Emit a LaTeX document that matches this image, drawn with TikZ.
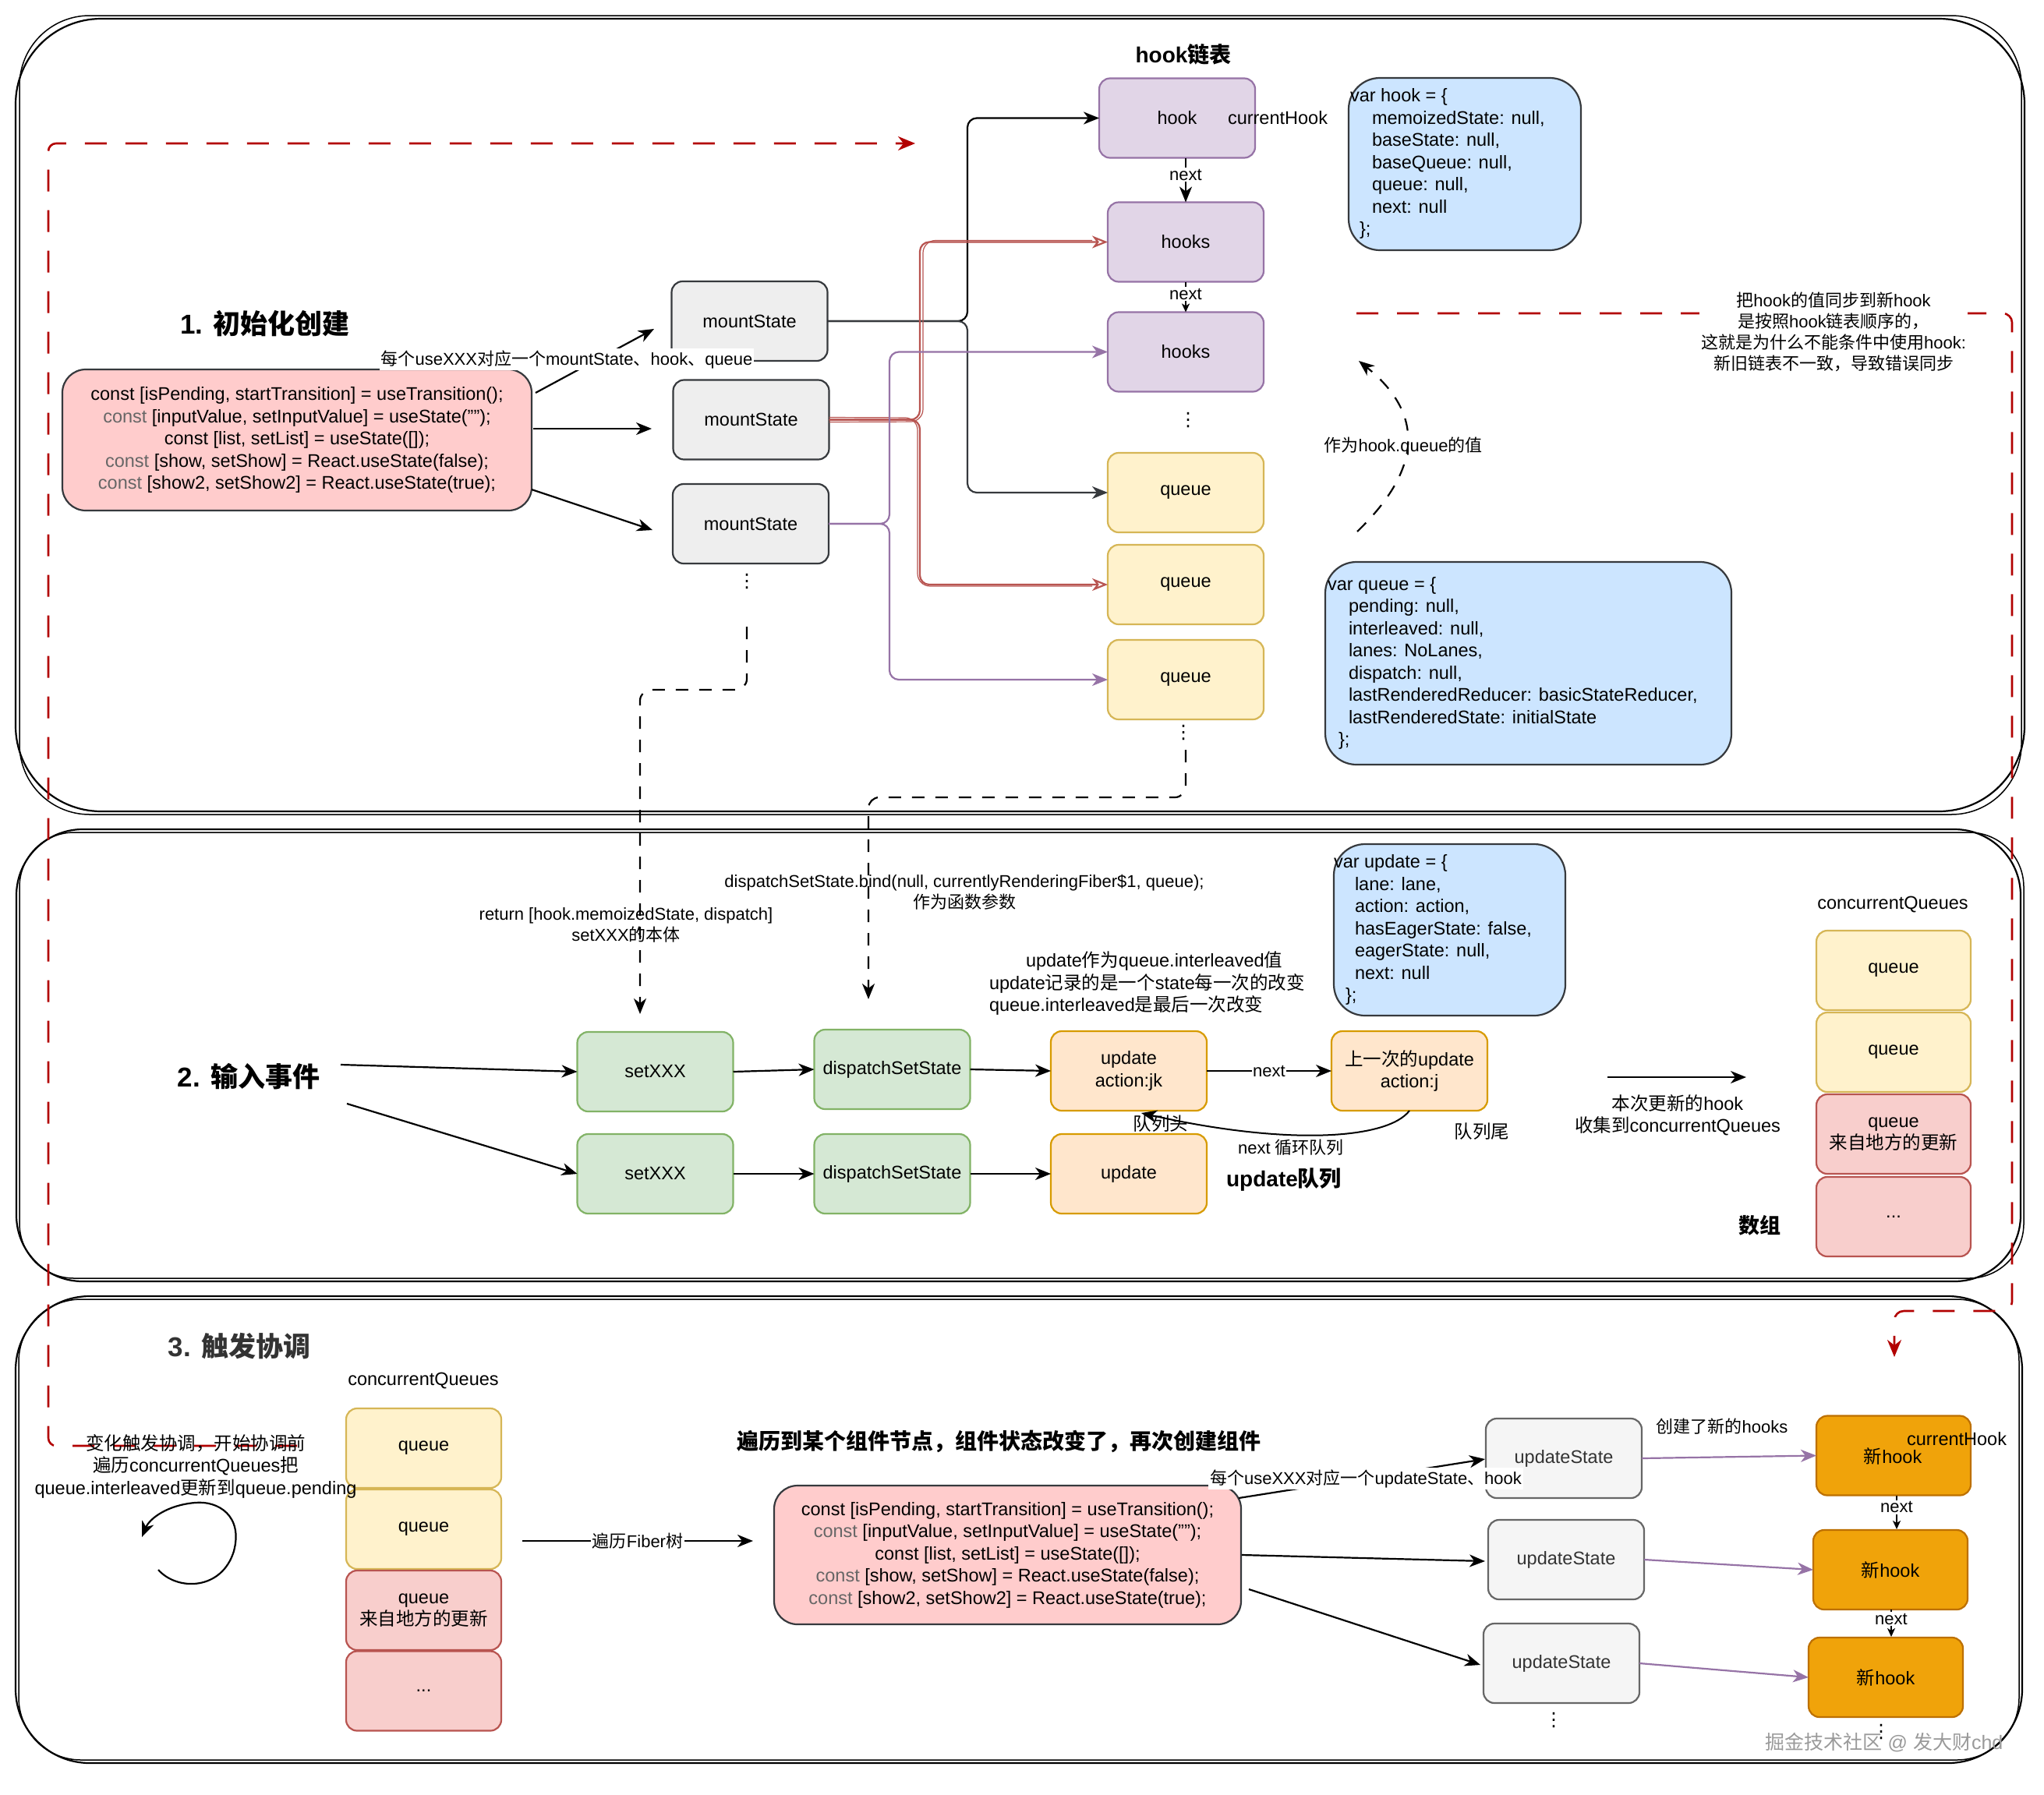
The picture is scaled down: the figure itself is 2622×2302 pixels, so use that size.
\documentclass[tikz,border=0pt]{standalone}
\usepackage{fontspec}
\setmainfont{Liberation Sans}
\newfontfamily\zh{Noto Sans CJK SC}
\newfontfamily\dv{DejaVu Sans}
\usetikzlibrary{arrows.meta,calc}
\definecolor{purF}{HTML}{E1D5E7}\definecolor{purD}{HTML}{9673A6}
\definecolor{yelF}{HTML}{FFF2CC}\definecolor{yelD}{HTML}{D6B656}
\definecolor{bluF}{HTML}{CCE5FF}\definecolor{dkD}{HTML}{36393D}
\definecolor{gryF}{HTML}{EEEEEE}
\definecolor{ltF}{HTML}{F5F5F5}\definecolor{ltD}{HTML}{666666}
\definecolor{pnkF}{HTML}{FFCCCC}
\definecolor{redF}{HTML}{F8CECC}\definecolor{redD}{HTML}{B85450}
\definecolor{grnF}{HTML}{D5E8D4}\definecolor{grnD}{HTML}{82B366}
\definecolor{orF}{HTML}{FFE6CC}\definecolor{orD}{HTML}{D79B00}
\definecolor{nhF}{HTML}{F0A30A}\definecolor{nhD}{HTML}{BD7000}
\definecolor{dred}{HTML}{B20000}
\definecolor{cgray}{HTML}{666666}
\definecolor{txt3}{HTML}{333333}
\definecolor{wmC}{HTML}{9A9A9A}
\newcommand\Z[1]{{\zh #1}}
\newcommand\fN{\fontsize{23.5}{28.5}\selectfont}
\newcommand\fL{\fontsize{22}{27}\selectfont}
\newcommand\vd{{\dv\fontsize{24}{24}\selectfont ⋮}}
\begin{document}
\begin{tikzpicture}[x=1pt,y=-1pt,
  every node/.style={font=\fN, inner sep=0pt, outer sep=0pt},
  bx/.style={rounded corners=14pt, line width=2.2pt, minimum width=200pt, minimum height=102pt, align=center},
  purp/.style={bx, fill=purF, draw=purD},
  yel/.style={bx, fill=yelF, draw=yelD},
  rd/.style={bx, fill=redF, draw=redD},
  grbox/.style={bx, fill=grnF, draw=grnD},
  orbox/.style={bx, fill=orF, draw=orD},
  msbox/.style={bx, fill=gryF, draw=dkD},
  usbox/.style={bx, fill=ltF, draw=ltD, text=txt3},
  nhbox/.style={bx, fill=nhF, draw=nhD},
  blbox/.style={rounded corners=40pt, line width=2.2pt, fill=bluF, draw=dkD},
  codebox/.style={rounded corners=30pt, line width=2.2pt, fill=pnkF, draw=dkD, align=center},
  arr/.style={line width=2.2pt, -{Stealth[length=20pt,width=16pt,inset=6pt]}},
  sarr/.style={line width=2pt, -{Stealth[length=11pt,width=10pt,inset=3pt]}},
  parr/.style={arr, draw=purD},
  rarr/.style={line width=2.2pt, draw=redD, -{Stealth[open,length=20pt,width=16pt,inset=6pt]}},
  rsk/.style={line width=1.2pt, draw=redD},
  darr/.style={arr, dash pattern=on 16pt off 14pt},
  rdash/.style={line width=2.6pt, draw=dred, dash pattern=on 28pt off 24pt, -{Stealth[length=22pt,width=18pt,inset=7pt]}},
  lbl/.style={fill=white, font=\fL, inner sep=2pt},
  ttl/.style={font=\fontsize{35}{40}\selectfont\bfseries},
  pan/.style={line width=2.2pt, draw=black},
]
\useasboundingbox (0,0) rectangle (2622,2302);
\fill[white] (0,0) rectangle (2622,2302);

% ---------- panels ----------
\draw[pan, rounded corners=110pt] (20,24) rectangle (2597,1041);
\draw[pan, line width=1.5pt, rounded corners=90pt] (25,20) rectangle (2593,1045);
\draw[pan, rounded corners=85pt] (21,1064) rectangle (2592,1644);
\draw[pan, line width=1.5pt, rounded corners=70pt] (25,1068) rectangle (2596,1640);
\draw[pan, rounded corners=95pt] (20,1663) rectangle (2594,2262);
\draw[pan, line width=1.5pt, rounded corners=80pt] (24,1667) rectangle (2590,2258);

% ---------- red dashed feedback lines ----------
\draw[rdash, rounded corners=10pt] (381,1855) -- (62,1855) -- (62,184) -- (1174,184);
\draw[rdash, rounded corners=12pt] (1740,402) -- (2581,402) -- (2581,1682) -- (2430,1682) -- (2430,1741);

% ---------- section 1 ----------
\node[ttl] (t1) at (340,415) {1. \Z{初始化创建}};
\node[font=\fontsize{28}{32}\selectfont\bfseries] (tHL) at (1518,70) {hook\Z{链表}};

\node[purp] (hook) at (1510,151.5) {};
\node (hookT) at (1510,151) {hook};
\node (curH) at (1639,151) {currentHook};
\node[purp] (hk1) at (1521,310.5) {hooks};
\node[purp] (hk2) at (1521,451.5) {hooks};
\node (vd1) at (1524,539) {\vd};
\node[yel] (q1) at (1521,632) {queue};
\node[yel] (q2) at (1521,750) {queue};
\node[yel] (q3) at (1521,872) {queue};
\node (vd2) at (1518,940) {\vd};

\draw[arr] (hook.south -| hk1.north) -- node[lbl, pos=0.38] (nx1) {next} (hk1.north);
\draw[sarr] (hk1.south) -- node[lbl, pos=0.4] (nx2) {next} (hk2.north);

\node[blbox, minimum width=298pt, minimum height=221pt] (vh) at (1879,210.5) {};
\node[anchor=west, align=left] (vhT) at (1732,210) {var hook = \{\\\hspace*{28pt}memoizedState: null,\\\hspace*{28pt}baseState: null,\\\hspace*{28pt}baseQueue: null,\\\hspace*{28pt}queue: null,\\\hspace*{28pt}next: null\\\hspace*{12pt}\};};

\node[blbox, minimum width=521pt, minimum height=260pt] (vq) at (1960.5,851) {};
\node[anchor=west, align=left] (vqT) at (1703,851) {var queue = \{\\\hspace*{27pt}pending: null,\\\hspace*{27pt}interleaved: null,\\\hspace*{27pt}lanes: NoLanes,\\\hspace*{27pt}dispatch: null,\\\hspace*{27pt}lastRenderedReducer: basicStateReducer,\\\hspace*{27pt}lastRenderedState: initialState\\\hspace*{14pt}\};};

\node[msbox] (m1) at (961.5,412) {mountState};
\node[msbox] (m2) at (963.5,538.5) {mountState};
\node[msbox] (m3) at (963,672) {mountState};
\node (vd3) at (958,746) {\vd};

\node[codebox, minimum width=602pt, minimum height=181pt] (code) at (381,564.5) {const [isPending, startTransition] = useTransition();\\\textcolor{cgray}{const} [inputValue, setInputValue] = useState("");\\const [list, setList] = useState([]);\hspace*{82pt}\\\textcolor{cgray}{const} [show, setShow] = React.useState(false);\\\textcolor{cgray}{const} [show2, setShow2] = React.useState(true);};

% code -> mountState
\coordinate (c1s) at (687,504); \coordinate (c1e) at (839,422);
\coordinate (c2s) at (684,550); \coordinate (c2e) at (836,550);
\coordinate (c3s) at (682,628); \coordinate (c3e) at (837,680);
\draw[arr] (c1s) -- (c1e);
\draw[arr] (c2s) -- (c2e);
\draw[arr] (c3s) -- (c3e);
\node[lbl] (l1) at (727,461) {\Z{每个}useXXX\Z{对应一个}mountState\Z{、}hook\Z{、}queue};

% mountState -> hooks / queues
\draw[arr, rounded corners=12pt] (m1.east) -- (1241,412) |- (hook.west);
\draw[arr, rounded corners=12pt, draw=dkD] (m1.east) -- (1241,412) |- (q1.west);
\draw[rarr, rounded corners=12pt] (m2.east) -- (1180,538.5) |- (hk1.west);
\draw[rarr, rounded corners=12pt] (m2.east) -- (1180,538.5) |- (q2.west);
\draw[rsk, rounded corners=16pt] ($(m2.east)+(0,3)$) -- (1184,541) |- ($(hk1.west)+(-20,-2)$);
\draw[rsk, rounded corners=16pt] ($(m2.east)+(0,-3)$) -- (1177,536) |- ($(q2.west)+(-20,2)$);
\draw[parr, rounded corners=12pt] (m3.east) -- (1141,672) |- (hk2.west);
\draw[parr, rounded corners=12pt] (m3.east) -- (1141,672) |- (q3.west);

% dashed: hook.queue value
\draw[darr] (1741,682) .. controls (1826,600) and (1826,530) .. (1743,463);
\node[font=\fL] (lhq) at (1800,572) {\Z{作为}hook.queue\Z{的值}};

% dashed to section 2
\draw[darr, rounded corners=14pt] (958,804) -- (958,885) -- (821,885) -- (821,1301);
\draw[darr, rounded corners=14pt] (1521,962) -- (1521,1023) -- (1114,1023) -- (1114,1282);
\node[font=\fL, align=center] (lret) at (803,1187) {return [hook.memoizedState, dispatch]\\setXXX\Z{的本体}};
\node[font=\fL, align=center] (lbind) at (1237,1145) {dispatchSetState.bind(null, currentlyRenderingFiber\$1, queue);\\\Z{作为函数参数}};

\node[lbl, align=center] (lsync) at (2352,426) {\Z{把}hook\Z{的值同步到新}hook\\\Z{是按照}hook\Z{链表顺序的，}\\\Z{这就是为什么不能条件中使用}hook:\\\Z{新旧链表不一致，导致错误同步}};

% ---------- section 2 ----------
\node[ttl] (t2) at (319,1381) {2. \Z{输入事件}};
\node[grbox] (s1) at (840.5,1375) {setXXX};
\node[grbox] (s2) at (840.5,1506) {setXXX};
\node[grbox] (ds1) at (1144.5,1372) {dispatchSetState};
\node[grbox] (ds2) at (1144.5,1506) {dispatchSetState};
\node[orbox] (u1) at (1448,1374) {update\\action:jk};
\node[orbox] (u2) at (1448,1506) {update};
\node[orbox] (pu) at (1808,1374) {\Z{上一次的}update\\action:j};

\coordinate (t2a) at (437,1366); \coordinate (t2b) at (445,1416);
\draw[arr] (t2a) -- (s1.west);
\draw[arr] (t2b) -- (s2.west);
\draw[arr] (s1.east) -- (ds1.west);
\draw[arr] (s2.east) -- (ds2.west);
\draw[arr] (ds1.east) -- (u1.west);
\draw[arr] (ds2.east) -- (u2.west);
\draw[arr] (u1.east) -- node[lbl, inner sep=1pt] (nx3) {next} (pu.west);
\coordinate (headPt) at (1464,1428);
\draw[arr, line width=2pt] (pu.south) .. controls (1780,1462) and (1650,1470) .. (headPt);
\node[font=\fL] (lcyc) at (1656,1472) {next \Z{循环队列}};
\node (lhead) at (1489,1442) {\Z{队列头}};
\node (ltail) at (1901,1452) {\Z{队列尾}};
\node[font=\fontsize{28}{32}\selectfont\bfseries] (luq) at (1647,1513) {update\Z{队列}};

\node[anchor=west, align=left] (uti) at (1269,1262) {\hspace*{47pt}update\Z{作为}queue.interleaved\Z{值}\\update\Z{记录的是一个}state\Z{每一次的改变}\\queue.interleaved\Z{是最后一次改变}};

\node[blbox, minimum width=297pt, minimum height=220pt] (vu) at (1859.5,1193) {};
\node[anchor=west, align=left] (vuT) at (1711,1193) {var update = \{\\\hspace*{27pt}lane: lane,\\\hspace*{27pt}action: action,\\\hspace*{27pt}hasEagerState: false,\\\hspace*{27pt}eagerState: null,\\\hspace*{27pt}next: null\\\hspace*{15pt}\};};

\node (cqL2) at (2428,1160) {concurrentQueues};
\node[yel, minimum width=198pt] (cqa) at (2429,1245) {queue};
\node[yel, minimum width=198pt] (cqb) at (2429,1350) {queue};
\node[rd, minimum width=198pt] (cqc) at (2429,1455) {queue\\\Z{来自地方的更新}};
\node[rd, minimum width=198pt] (cqd) at (2429,1561) {...};
\coordinate (colA) at (2062,1382); \coordinate (colB) at (2240,1382);
\draw[arr] (colA) -- (colB);
\node[align=center] (lcol) at (2152,1431) {\Z{本次更新的}hook\\\Z{收集到}concurrentQueues};
\node[font=\fontsize{27}{30}\selectfont\bfseries] (larr) at (2257,1572) {\Z{数组}};

% ---------- section 3 ----------
\node[ttl, text=txt3] (t3) at (307,1727) {3. \Z{触发协调}};
\node (cqL3) at (543,1771) {concurrentQueues};
\node[yel, minimum width=199pt] (k1) at (543.5,1858) {queue};
\node[yel, minimum width=199pt] (k2) at (543.5,1962) {queue};
\node[rd, minimum width=199pt] (k3) at (543.5,2066) {queue\\\Z{来自地方的更新}};
\node[rd, minimum width=199pt] (k4) at (543.5,2169.5) {...};

\node[align=center] (trig) at (251,1881) {\Z{变化触发协调，开始协调前}\\\Z{遍历}concurrentQueues\Z{把}\\queue.interleaved\Z{更新到}queue.pending};
\draw[arr] (203,2014) .. controls (228,2042) and (285,2040) .. (300,1990) .. controls (312,1945) and (280,1925) .. (250,1928) .. controls (215,1931) and (192,1948) .. (182,1972);

\node[codebox, minimum width=599pt, minimum height=178pt] (code2) at (1292.5,1995) {const [isPending, startTransition] = useTransition();\\\textcolor{cgray}{const} [inputValue, setInputValue] = useState("");\\const [list, setList] = useState([]);\hspace*{82pt}\\\textcolor{cgray}{const} [show, setShow] = React.useState(false);\\\textcolor{cgray}{const} [show2, setShow2] = React.useState(true);};

\coordinate (fA) at (670,1977); \coordinate (fB) at (966,1977);
\draw[arr] (fA) -- node[lbl] (lfib) {\Z{遍历}Fiber\Z{树}} (fB);
\node[font=\fontsize{28}{32}\selectfont\bfseries] (lre) at (1281,1849) {\Z{遍历到某个组件节点，组件状态改变了，再次创建组件}};

\node[usbox] (us1) at (2006,1871) {updateState};
\node[usbox] (us2) at (2009,2001) {updateState};
\node[usbox] (us3) at (2003,2134) {updateState};
\node (vd4) at (1993,2207) {\vd};

\node[nhbox, minimum width=198pt] (nh1) at (2429,1867.5) {};
\node (nh1T) at (2428,1868) {\Z{新}hook};
\node (curH2) at (2510,1846) {currentHook};
\node[nhbox, minimum width=198pt] (nh2) at (2425,2014) {\Z{新}hook};
\node[nhbox, minimum width=198pt] (nh3) at (2419,2152) {\Z{新}hook};
\draw[sarr] (nh1.south -| 2433,0) -- node[lbl, pos=0.35] (nx4) {next} (2433,1962);
\draw[sarr] (nh2.south -| 2426,0) -- node[lbl, pos=0.35] (nx5) {next} (2426,2100);
\node[font=\fL] (lnew) at (2209,1830) {\Z{创建了新的}hooks};

\coordinate (e1s) at (1589,1922); \coordinate (e1e) at (1905,1872);
\coordinate (e2s) at (1593,1995); \coordinate (e2e) at (1905,2003);
\coordinate (e3s) at (1602,2039); \coordinate (e3e) at (1899,2136);
\draw[arr] (e1s) -- (e1e);
\draw[arr] (e2s) -- (e2e);
\draw[arr] (e3s) -- (e3e);
\node[lbl] (l2) at (1752,1897) {\Z{每个}useXXX\Z{对应一个}updateState\Z{、}hook};

\draw[parr] (us1.east) -- (nh1.west);
\draw[parr] (us2.east) -- (nh2.west);
\draw[parr] (us3.east) -- (nh3.west);

\node (vd5) at (2413,2222) {\vd};
\node[text=wmC, font=\fontsize{25}{25}\selectfont] (wm) at (2417,2236) {\Z{掘金技术社区} @ \Z{发大财}chd};
\end{tikzpicture}
\end{document}
